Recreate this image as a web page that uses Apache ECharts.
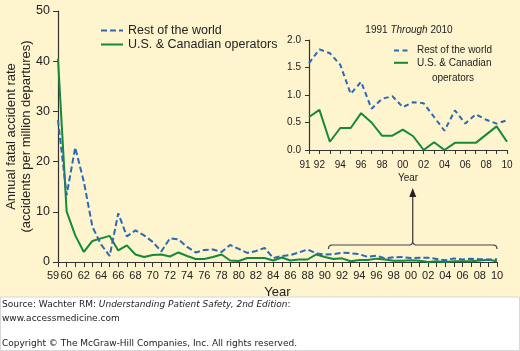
<!DOCTYPE html>
<html><head><meta charset="utf-8">
<script src="https://cdn.jsdelivr.net/npm/echarts@6/dist/echarts.min.js"></script>
<style>
html,body{margin:0;padding:0;background:#fff}
#c{width:520px;height:351px;background:linear-gradient(#FEF4CE 0,#FEF4CE 297px,#ffffff 297px)}
</style>
</head><body><div id="c"></div>
<script>
// ---- data ----
const years = ['59','60','61','62','63','64','65','66','67','68','69',
  '70','71','72','73','74','75','76','77','78','79',
  '80','81','82','83','84','85','86','87','88','89',
  '90','91','92','93','94','95','96','97','98','99',
  '00','01','02','03','04','05','06','07','08','09','10'];
const restOfWorld = [28.3,13.3,22.8,16.0,7.0,3.5,1.2,9.7,5.1,6.3,5.3,
  4.0,2.1,4.7,4.5,3.0,1.9,2.4,2.5,2.0,3.4,
  2.6,1.8,2.2,2.8,0.8,1.2,1.4,1.9,2.5,1.7,
  1.5,1.58,1.83,1.76,1.55,1.02,1.24,0.75,0.93,0.98,
  0.78,0.87,0.85,0.60,0.35,0.72,0.48,0.65,0.55,0.48,0.54];
const usCanada = [40.5,10.1,5.3,2.0,4.2,4.7,5.2,2.3,3.3,1.5,1.0,
  1.4,1.5,1.1,1.9,1.2,0.6,0.6,1.0,1.5,0.3,
  0.2,0.8,0.8,0.8,0.3,0.9,0.3,0.5,0.5,1.5,
  1.0,0.60,0.73,0.15,0.40,0.40,0.67,0.50,0.26,0.26,
  0.37,0.25,0.0,0.14,0.0,0.13,0.13,0.13,0.28,0.43,0.15];
const insetStart = 32; // 1991
const insetYears = years.slice(insetStart);
const insetRest = restOfWorld.slice(insetStart);
const insetUS = usCanada.slice(insetStart);
const mainXLabels = ['59','60','62','64','66','68','70','72','74','76','78','80','82','84','86','88','90','92','94','96','98','00','02','04','06','08','10'];
const insetXLabels = ['91','92','94','96','98','00','02','04','06','08','10'];
const mainYTicks = [0,10,20,30,40,50];
const insetYTicks = [0.0,0.5,1.0,1.5,2.0];

const BLUE = '#2B68B6', GREEN = '#138A3A', TXT = '#222', AX = '#333';
const FONT = '"Liberation Sans", Arial, Helvetica, sans-serif';
const FOOT = '"DejaVu Sans", Verdana, sans-serif';

const chart = echarts.init(document.getElementById('c'), null, {renderer:'canvas'});

const axisCommon = {
  axisLine:{show:true, lineStyle:{color:AX, width:1.2}},
  axisTick:{show:true, lineStyle:{color:AX, width:1}},
  splitLine:{show:false}
};

function quad(p0, c, p1, n) {
  const out = [];
  for (let k = 0; k <= n; k++) {
    const t = k / n, u = 1 - t;
    out.push([u*u*p0[0] + 2*u*t*c[0] + t*t*p1[0], u*u*p0[1] + 2*u*t*c[1] + t*t*p1[1]]);
  }
  return out;
}

// brace + arrow marking the 1991-2010 span, drawn through the main x scale
function renderBrace(params, api) {
  const xa = api.coord([api.value(0), 0])[0] - 5;
  const xb = api.coord([api.value(1), 0])[0];
  const base = api.coord([0, 0])[1];
  const yb = base - 17;
  const xm = (xa + xb) / 2;
  const pts = []
    .concat(quad([xa, yb+4], [xa, yb], [xa+4, yb], 6))
    .concat(quad([xm-4, yb], [xm, yb], [xm, yb-4], 6))
    .concat(quad([xm, yb-4], [xm, yb], [xm+4, yb], 6))
    .concat(quad([xb-4, yb], [xb, yb], [xb, yb+4], 6));
  return {type:'group', children:[
    {type:'polyline', shape:{points:pts}, style:{fill:'none', stroke:'#444', lineWidth:1.2, lineDash:null}},
    {type:'line', shape:{x1:xm, y1:yb-4, x2:xm, y2:base-65}, style:{stroke:'#333', lineWidth:1.2, lineDash:null}},
    {type:'polygon', shape:{points:[[xm, base-74], [xm-3.5, base-65], [xm+3.5, base-65]]}, style:{fill:'#222'}}
  ]};
}

const option = {
  backgroundColor:'transparent',
  animation:false,
  textStyle:{fontFamily:FONT, color:TXT},
  title:{
    text:'1991 {i|Through} 2010', left:409, top:25, textAlign:'center', padding:0,
    textStyle:{fontSize:10, fontWeight:'normal', color:TXT, fontFamily:FONT,
      rich:{i:{fontStyle:'italic', fontSize:10, color:TXT, fontFamily:FONT}}}
  },
  grid:[
    {left:58, right:23, top:11, bottom:89, outerBoundsMode:'none', containLabel:false},
    {left:309, right:13, top:40, bottom:201, outerBoundsMode:'none', containLabel:false}
  ],
  legend:[
    {left:100, top:24, padding:0, orient:'vertical', itemWidth:22, itemHeight:14, itemGap:1,
      selectedMode:false, data:['Rest of the world','U.S. & Canadian operators'],
      itemStyle:{opacity:0},
      textStyle:{fontSize:12.5, color:TXT, fontFamily:FONT}},
    {left:393, top:45, padding:0, orient:'vertical', itemWidth:14, itemHeight:14, itemGap:1, selectedMode:false,
      data:['inset-rest','inset-us'], itemStyle:{opacity:0},
      formatter:(n)=> n==='inset-rest' ? '{t|Rest of the world}' : '{t|U.S. & Canadian}',
      textStyle:{rich:{t:{fontSize:10, color:TXT, fontFamily:FONT, padding:[0,0,0,4]}}}}
  ],
  xAxis:[
    Object.assign({}, axisCommon, {
      type:'category', gridIndex:0, data:years, boundaryGap:false,
      axisTick:{show:true, interval:0, length:5, lineStyle:{color:AX}},
      axisLabel:{interval:(i,v)=>mainXLabels.includes(v), fontSize:11, color:TXT, margin:8, fontFamily:FONT,
        formatter:(v)=> v==='59' ? '{l|59}' : v,
        rich:{l:{fontSize:11, color:TXT, fontFamily:FONT, padding:[0,10,0,0]}}},
      name:'Year', nameLocation:'middle', nameGap:24, nameMoveOverlap:false,
      nameTextStyle:{fontSize:13, color:TXT, fontFamily:FONT}
    }),
    Object.assign({}, axisCommon, {
      type:'category', gridIndex:1, data:insetYears, boundaryGap:false,
      axisTick:{show:true, interval:0, length:4, lineStyle:{color:AX}},
      axisLabel:{interval:(i,v)=>insetXLabels.includes(v), fontSize:10, color:TXT, margin:10, fontFamily:FONT,
        formatter:(v)=> v==='91' ? '{l|91}' : v,
        rich:{l:{fontSize:10, color:TXT, fontFamily:FONT, padding:[0,8,0,0]}}},
      name:'Year', nameLocation:'middle', nameGap:23, nameMoveOverlap:false,
      nameTextStyle:{fontSize:10, color:TXT, fontFamily:FONT}
    })
  ],
  yAxis:[
    Object.assign({}, axisCommon, {
      type:'value', gridIndex:0, min:mainYTicks[0], max:mainYTicks[mainYTicks.length-1], interval:10,
      axisTick:{show:true, length:5, lineStyle:{color:AX}},
      axisLabel:{fontSize:12.5, color:TXT, margin:8, fontFamily:FONT},
      name:'Annual fatal accident rate\n(accidents per million departures)',
      nameLocation:'middle', nameRotate:90, nameGap:24, nameMoveOverlap:false,
      nameTextStyle:{fontSize:13, lineHeight:15, color:TXT, fontFamily:FONT}
    }),
    Object.assign({}, axisCommon, {
      type:'value', gridIndex:1, min:insetYTicks[0], max:insetYTicks[insetYTicks.length-1], interval:0.5,
      axisTick:{show:true, length:4, lineStyle:{color:AX}},
      axisLabel:{fontSize:10, color:TXT, margin:8, fontFamily:FONT, formatter:(v)=>v.toFixed(1)}
    })
  ],
  series:[
    {type:'line', name:'Rest of the world', xAxisIndex:0, yAxisIndex:0, data:restOfWorld,
      symbol:'none', lineStyle:{color:BLUE, width:2, type:[6,3]}, itemStyle:{color:BLUE}, z:3},
    {type:'line', name:'U.S. & Canadian operators', xAxisIndex:0, yAxisIndex:0, data:usCanada,
      symbol:'none', lineStyle:{color:GREEN, width:2}, itemStyle:{color:GREEN}, z:2},
    {type:'line', name:'inset-rest', xAxisIndex:1, yAxisIndex:1, data:insetRest,
      symbol:'none', lineStyle:{color:BLUE, width:2, type:[5,3.5]}, itemStyle:{color:BLUE}, z:3},
    {type:'line', name:'inset-us', xAxisIndex:1, yAxisIndex:1, data:insetUS,
      symbol:'none', lineStyle:{color:GREEN, width:2}, itemStyle:{color:GREEN}, z:2},
    {type:'custom', name:'span-brace', xAxisIndex:0, yAxisIndex:0, silent:true, clip:false, zlevel:1, z:6,
      encode:{x:[0,1]}, data:[[insetStart, years.length - 1]], renderItem:renderBrace}
  ],
  graphic:[
    {type:'text', x:453, y:78, silent:true, style:{text:'operators', fill:TXT, font:'10px ' + FONT, align:'center', verticalAlign:'middle'}},
    {type:'rect', shape:{x:0.5, y:297, width:519, height:53.5}, style:{fill:null, stroke:'#d8d8d8', lineWidth:1}, silent:true},
    {type:'text', x:2, y:305, silent:true, style:{
      text:'Source: Wachter RM: {i|Understanding Patient Safety, 2nd Edition}:', fill:'#222',
      font:'9px ' + FOOT, verticalAlign:'middle',
      rich:{i:{fontStyle:'italic', fontSize:9, fontFamily:FOOT, fill:'#222'}}}},
    {type:'text', x:2, y:319, silent:true, style:{text:'www.accessmedicine.com', fill:'#222', font:'9px ' + FOOT, verticalAlign:'middle'}},
    {type:'text', x:2, y:344, silent:true, style:{text:'Copyright \u00A9 The McGraw-Hill Companies, Inc. All rights reserved.', fill:'#222', font:'9px ' + FOOT, verticalAlign:'middle'}}
  ]
};
chart.setOption(option);
</script>
</body></html>
